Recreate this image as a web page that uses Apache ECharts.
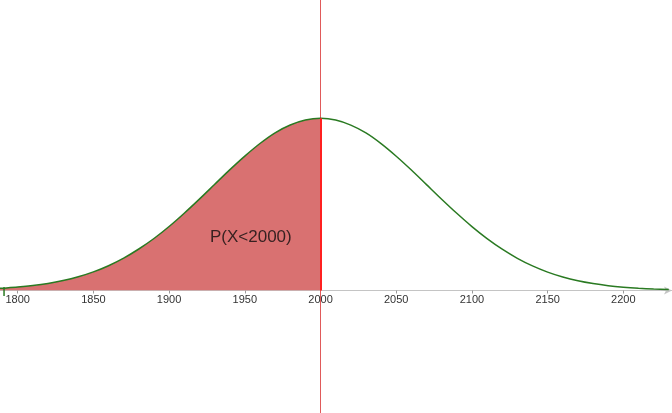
<!DOCTYPE html>
<html>
<head>
<meta charset="utf-8">
<script src="https://cdn.jsdelivr.net/npm/echarts@6/dist/echarts.min.js"></script>
<style>html,body{margin:0;padding:0;background:#fff}#c{width:672px;height:413px}</style>
</head>
<body>
<div id="c"></div>
<script>
// ---- data ----
const xValues = [1788,1790,1800,1810,1820,1830,1840,1850,1860,1870,1880,1890,1900,1910,1920,1930,1940,1950,1960,1970,1980,1990,2000,
  2010,2020,2030,2040,2050,2060,2070,2080,2090,2100,2110,2120,2130,2140,2150,2160,2170,2180,2190,2200,2210,2220,2230];
const density = [2.1,2.3,3.4,4.9,7.0,9.9,13.7,18.6,24.8,32.4,41.5,52.0,64.0,77.3,91.4,106.0,120.6,134.4,147.0,157.7,165.5,170.5,172.2,
  170.5,165.4,157.6,146.9,134.3,120.5,105.9,91.3,77.2,63.9,51.9,41.3,32.2,24.6,18.4,13.5,9.7,6.9,4.8,3.3,2.2,1.4,0.9];
const xTicks = [1800,1850,1900,1950,2000,2050,2100,2150,2200];
const cutoff = 2000;
const probLabel = 'P(X<2000)';
const probLabelAt = [1954, 53];
const curveStart = 1791;

const curve = xValues.map((x, i) => [x, density[i]]);
const shaded = curve.filter(p => p[0] <= cutoff);
const peakAtCut = density[xValues.indexOf(cutoff)];
const X_MIN = 1788.33, X_MAX = 2232.13;

const chart = echarts.init(document.getElementById('c'));
chart.setOption({
  animation: false,
  grid: [
    {left: 0, right: 0, top: 0, bottom: 122.5, outerBoundsMode: 'none', containLabel: false},
    {left: 0, right: 0, top: 0, bottom: 0, outerBoundsMode: 'none', containLabel: false}
  ],
  xAxis: [{
    type: 'value', gridIndex: 0, min: X_MIN, max: X_MAX,
    axisLine: {onZero: false, lineStyle: {color: '#c4c4c4', width: 1}, symbol: ['none', 'arrow'], symbolSize: [6, 8]},
    axisTick: {show: true, length: 3, inside: false, customValues: xTicks, lineStyle: {color: '#9a9a9a'}},
    axisLabel: {
      color: '#333', fontSize: 11, fontFamily: 'Liberation Sans, Arial, sans-serif', margin: 4,
      customValues: xTicks, formatter: v => String(v)
    },
    splitLine: {show: false}
  }, {
    type: 'value', gridIndex: 1, min: X_MIN, max: X_MAX, show: false, splitLine: {show: false}
  }],
  yAxis: [
    {type: 'value', gridIndex: 0, min: 0, max: 290.5, show: false, splitLine: {show: false}},
    {type: 'value', gridIndex: 1, min: 0, max: 1, show: false, splitLine: {show: false}}
  ],
  series: [
    {
      type: 'line', xAxisIndex: 1, yAxisIndex: 1, data: [[cutoff, 0], [cutoff, 1]], silent: true, z: 1,
      symbol: 'none', lineStyle: {color: '#e05a5a', width: 1}
    },
    {
      type: 'line', xAxisIndex: 0, yAxisIndex: 0, data: shaded, smooth: 0.3, symbol: 'none', silent: true,
      lineStyle: {width: 0},
      areaStyle: {color: '#d97171', opacity: 1},
      z: 2,
      markLine: {
        silent: true, symbol: 'none', label: {show: false},
        lineStyle: {color: '#ff2020', width: 2, type: 'solid'},
        data: [
          [{coord: [xValues[0], 0]}, {coord: [cutoff, 0]}],
          [{coord: [cutoff, 0]}, {coord: [cutoff, peakAtCut]}]
        ]
      }
    },
    {
      type: 'scatter', xAxisIndex: 0, yAxisIndex: 0, data: [probLabelAt], silent: true, z: 5,
      symbolSize: 1, itemStyle: {color: 'rgba(0,0,0,0)'},
      label: {show: true, position: 'inside', color: '#0d0d0d', fontSize: 17, textBorderWidth: 0,
        fontFamily: 'Liberation Sans, Arial, sans-serif', formatter: probLabel}
    },
    {
      type: 'line', xAxisIndex: 0, yAxisIndex: 0, data: curve, smooth: 0.3, symbol: 'none', silent: true,
      lineStyle: {color: '#2a7a22', width: 1.5},
      z: 3,
      markPoint: {
        silent: true, symbol: 'rect', symbolSize: [1.5, 9], symbolOffset: [0, 1],
        itemStyle: {color: '#2a7a22'}, label: {show: false},
        data: [{coord: [curveStart, 0]}]
      }
    }
  ]
});
</script>
</body>
</html>
